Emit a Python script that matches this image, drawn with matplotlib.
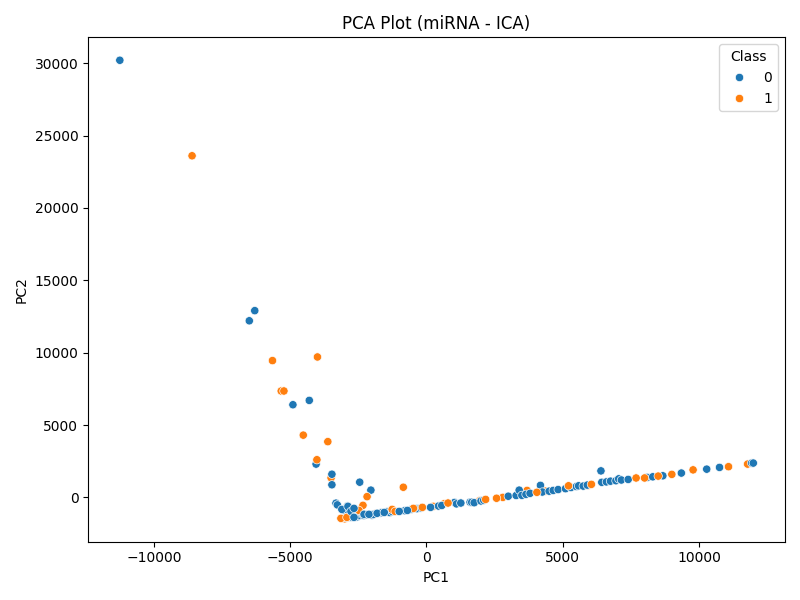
import matplotlib
matplotlib.use("Agg")
import matplotlib.pyplot as plt
import pandas as pd
import seaborn as sns

# points, draw order: class 1 under, class 0, class 1 over, class 0 on top
pc1_under = [-3500, -3000, -2400, -1900, 250, 640, 1950, 2800, 3690, 4360, 5170,
             5930, 11780]
pc2_under = [1350, -1480, -1200, -1150, -620, -450, -230, 0, 480, 430, 700,
             820, 2300]

pc1_0 = [-11250, -6500, -6300, -4900, -4300, -4050, -3470, -3470, -2450, -2040,
         -3320, -3270, -2900, -3000, -2950, -2850, -2750, -2600, -2550, -2450,
         -2350, -2300, -2200, -2000, -1950, -1700, -1650, -1450, -1350, -1250,
         -800, -550, -350, -200, 440, 560, 1030, 1100, 1260, 1600, 1660, 1750,
         2000, 2100, 3000, 3290, 3400, 3500, 3650, 3800, 4180, 4250, 4500, 4650,
         4830, 5100, 5300, 5500, 5580, 5750, 5900, 6400, 6430, 6600, 6750, 6950,
         7050, 7150, 7400, 8100, 8300, 8670, 9350, 10280, 10750, 11930, 11990]
pc2_0 = [30200, 12200, 12900, 6400, 6700, 2300, 870, 1600, 1050, 500,
         -400, -520, -600, -950, -1400, -1380, -1370, -1350, -1350, -1250,
         -1150, -1250, -1200, -1230, -1180, -1080, -1060, -1000, -1050, -980,
         -920, -820, -780, -730, -600, -560, -350, -450, -390, -330, -340, -370,
         -250, -200, 80, 130, 500, 140, 210, 280, 830, 370, 430, 480,
         540, 600, 680, 750, 800, 780, 850, 1830, 1040, 1070, 1120, 1150,
         1280, 1200, 1240, 1380, 1420, 1490, 1680, 1950, 2070, 2370, 2370]

pc1_over = [-8600, -5650, -5330, -5230, -4000, -4520, -3620, -4020, -2180,
            -850, -2330, -2480, -3140, -2920, -1260, -1150, -480, -150, 790,
            2170, 2570, 4050, 5210, 6050, 7690, 8000, 8500, 9000, 9780, 11080]
pc2_over = [23600, 9450, 7350, 7350, 9700, 4300, 3850, 2600, 50,
            700, -550, -900, -1450, -1380, -830, -970, -760, -690, -390,
            -140, -60, 350, 800, 900, 1340, 1340, 1470, 1590, 1900, 2120]

pc1_top = [-3105, -2880, -2770, -2660, -2660, -2290, -2110, -1810, -1550, -1000,
           -700, 150]
pc2_top = [-830, -620, -970, -760, -1380, -1170, -1170, -1100, -1040, -970,
           -900, -690]

df = pd.DataFrame({
    "PC1": pc1_under + pc1_0 + pc1_over + pc1_top,
    "PC2": pc2_under + pc2_0 + pc2_over + pc2_top,
    "Class": [1] * len(pc1_under) + [0] * len(pc1_0) + [1] * len(pc1_over) + [0] * len(pc1_top),
})

plt.figure(figsize=(8, 6))
sns.scatterplot(data=df, x="PC1", y="PC2", hue="Class", hue_order=[0, 1])
plt.title("PCA Plot (miRNA - ICA)")
plt.tight_layout()
plt.savefig("out.png", dpi=100)
